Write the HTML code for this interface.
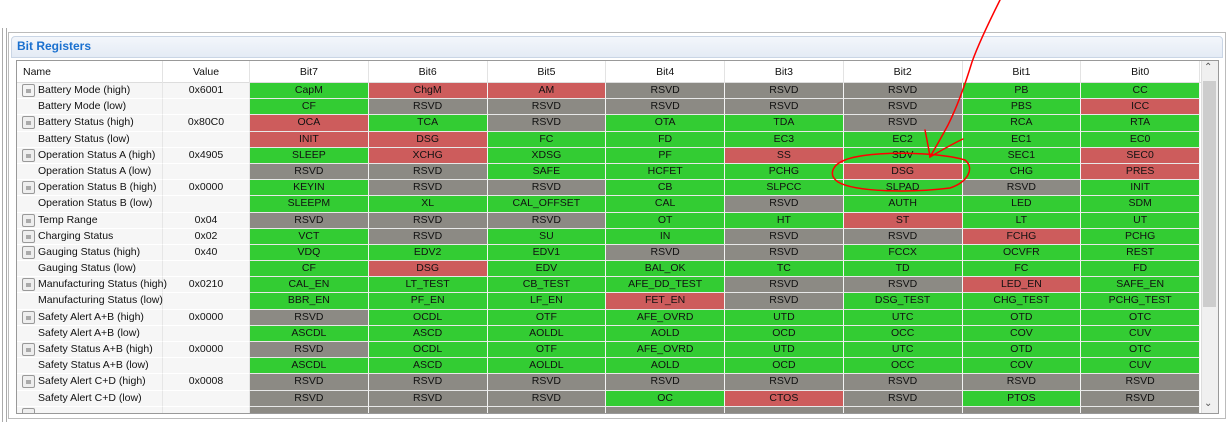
<!DOCTYPE html>
<html><head><meta charset="utf-8"><style>
*{box-sizing:border-box;margin:0;padding:0}
body{width:1230px;height:422px;background:#fff;font-family:"Liberation Sans",Arial,sans-serif;font-size:10.5px;color:#111;position:relative;overflow:hidden}
.abs{position:absolute}
.row{display:flex;height:16.2px}
.c{height:16.2px;line-height:15px;text-align:center;border-right:1px solid #f4f4f4;border-bottom:1px solid #e8e8e8;white-space:nowrap;overflow:hidden}
.n{width:146px;text-align:left;padding-left:21px;background:#f6f6f6;position:relative;border-bottom:1px solid #fff;border-right:1px solid #e6e6e6;overflow:visible}
.v{width:87px;background:#f6f6f6;border-bottom:1px solid #fff;border-right:1px solid #e6e6e6}
.b{width:118.75px}
.g{background:#33cc33}.r{background:#cd5c5c}.x{background:#8c8a84}
.ic{position:absolute;left:5px;top:1px;width:13px;height:13px;border:1px solid #999;border-radius:2px;background:#eee}
.ic:after{content:"";position:absolute;left:3px;top:4px;width:5px;height:4px;background:#aaa}
.hd{display:flex;height:22px;background:#fff;border-bottom:1px solid #ddd}
.hd div{height:22px;line-height:22px;text-align:center;border-right:1px solid #e3e3e3}
</style></head><body>
<div class="abs" style="left:2px;top:28px;width:5px;height:394px;border-left:1px solid #aaa;border-right:1px solid #aaa"></div>
<div class="abs" style="left:8px;top:32px;width:1218px;height:387px;border:1px solid #bbb;background:#fff"></div>
<div class="abs" style="left:11px;top:36px;width:1212px;height:22px;border:1px solid #c9d5e5;border-radius:4px 4px 0 0;background:linear-gradient(#f3f6fb,#e4ebf5)"></div>
<div class="abs" style="left:17px;top:39px;font-weight:bold;font-size:12px;color:#1a70cf">Bit Registers</div>
<div class="abs" style="left:16px;top:60px;width:1203px;height:354px;border:1px solid #999;background:#fff;overflow:hidden">
<div class="hd"><div style="width:146px;text-align:left;padding-left:6px">Name</div><div style="width:87px">Value</div><div style="width:118.75px">Bit7</div><div style="width:118.75px">Bit6</div><div style="width:118.75px">Bit5</div><div style="width:118.75px">Bit4</div><div style="width:118.75px">Bit3</div><div style="width:118.75px">Bit2</div><div style="width:118.75px">Bit1</div><div style="width:118.75px">Bit0</div></div>
<div class="row"><div class="c n"><span class="ic" style="background:#f4f4f4"></span>Battery Mode (high)</div><div class="c v">0x6001</div><div class="c b g">CapM</div><div class="c b r">ChgM</div><div class="c b r">AM</div><div class="c b x">RSVD</div><div class="c b x">RSVD</div><div class="c b x">RSVD</div><div class="c b g">PB</div><div class="c b g">CC</div></div>
<div class="row"><div class="c n">Battery Mode (low)</div><div class="c v"></div><div class="c b g">CF</div><div class="c b x">RSVD</div><div class="c b x">RSVD</div><div class="c b x">RSVD</div><div class="c b x">RSVD</div><div class="c b x">RSVD</div><div class="c b g">PBS</div><div class="c b r">ICC</div></div>
<div class="row"><div class="c n"><span class="ic"></span>Battery Status (high)</div><div class="c v">0x80C0</div><div class="c b r">OCA</div><div class="c b g">TCA</div><div class="c b x">RSVD</div><div class="c b g">OTA</div><div class="c b g">TDA</div><div class="c b x">RSVD</div><div class="c b g">RCA</div><div class="c b g">RTA</div></div>
<div class="row"><div class="c n">Battery Status (low)</div><div class="c v"></div><div class="c b r">INIT</div><div class="c b r">DSG</div><div class="c b g">FC</div><div class="c b g">FD</div><div class="c b g">EC3</div><div class="c b g">EC2</div><div class="c b g">EC1</div><div class="c b g">EC0</div></div>
<div class="row"><div class="c n"><span class="ic"></span>Operation Status A (high)</div><div class="c v">0x4905</div><div class="c b g">SLEEP</div><div class="c b r">XCHG</div><div class="c b g">XDSG</div><div class="c b g">PF</div><div class="c b r">SS</div><div class="c b g">SDV</div><div class="c b g">SEC1</div><div class="c b r">SEC0</div></div>
<div class="row"><div class="c n">Operation Status A (low)</div><div class="c v"></div><div class="c b x">RSVD</div><div class="c b x">RSVD</div><div class="c b g">SAFE</div><div class="c b g">HCFET</div><div class="c b g">PCHG</div><div class="c b r">DSG</div><div class="c b g">CHG</div><div class="c b r">PRES</div></div>
<div class="row"><div class="c n"><span class="ic"></span>Operation Status B (high)</div><div class="c v">0x0000</div><div class="c b g">KEYIN</div><div class="c b x">RSVD</div><div class="c b x">RSVD</div><div class="c b g">CB</div><div class="c b g">SLPCC</div><div class="c b g">SLPAD</div><div class="c b x">RSVD</div><div class="c b g">INIT</div></div>
<div class="row"><div class="c n">Operation Status B (low)</div><div class="c v"></div><div class="c b g">SLEEPM</div><div class="c b g">XL</div><div class="c b g">CAL_OFFSET</div><div class="c b g">CAL</div><div class="c b x">RSVD</div><div class="c b g">AUTH</div><div class="c b g">LED</div><div class="c b g">SDM</div></div>
<div class="row"><div class="c n"><span class="ic"></span>Temp Range</div><div class="c v">0x04</div><div class="c b x">RSVD</div><div class="c b x">RSVD</div><div class="c b x">RSVD</div><div class="c b g">OT</div><div class="c b g">HT</div><div class="c b r">ST</div><div class="c b g">LT</div><div class="c b g">UT</div></div>
<div class="row"><div class="c n"><span class="ic"></span>Charging Status</div><div class="c v">0x02</div><div class="c b g">VCT</div><div class="c b x">RSVD</div><div class="c b g">SU</div><div class="c b g">IN</div><div class="c b x">RSVD</div><div class="c b x">RSVD</div><div class="c b r">FCHG</div><div class="c b g">PCHG</div></div>
<div class="row"><div class="c n"><span class="ic"></span>Gauging Status (high)</div><div class="c v">0x40</div><div class="c b g">VDQ</div><div class="c b g">EDV2</div><div class="c b g">EDV1</div><div class="c b x">RSVD</div><div class="c b x">RSVD</div><div class="c b g">FCCX</div><div class="c b g">OCVFR</div><div class="c b g">REST</div></div>
<div class="row"><div class="c n">Gauging Status (low)</div><div class="c v"></div><div class="c b g">CF</div><div class="c b r">DSG</div><div class="c b g">EDV</div><div class="c b g">BAL_OK</div><div class="c b g">TC</div><div class="c b g">TD</div><div class="c b g">FC</div><div class="c b g">FD</div></div>
<div class="row"><div class="c n"><span class="ic"></span>Manufacturing Status (high)</div><div class="c v">0x0210</div><div class="c b g">CAL_EN</div><div class="c b g">LT_TEST</div><div class="c b g">CB_TEST</div><div class="c b g">AFE_DD_TEST</div><div class="c b x">RSVD</div><div class="c b x">RSVD</div><div class="c b r">LED_EN</div><div class="c b g">SAFE_EN</div></div>
<div class="row"><div class="c n">Manufacturing Status (low)</div><div class="c v"></div><div class="c b g">BBR_EN</div><div class="c b g">PF_EN</div><div class="c b g">LF_EN</div><div class="c b r">FET_EN</div><div class="c b x">RSVD</div><div class="c b g">DSG_TEST</div><div class="c b g">CHG_TEST</div><div class="c b g">PCHG_TEST</div></div>
<div class="row"><div class="c n"><span class="ic"></span>Safety Alert A+B (high)</div><div class="c v">0x0000</div><div class="c b x">RSVD</div><div class="c b g">OCDL</div><div class="c b g">OTF</div><div class="c b g">AFE_OVRD</div><div class="c b g">UTD</div><div class="c b g">UTC</div><div class="c b g">OTD</div><div class="c b g">OTC</div></div>
<div class="row"><div class="c n">Safety Alert A+B (low)</div><div class="c v"></div><div class="c b g">ASCDL</div><div class="c b g">ASCD</div><div class="c b g">AOLDL</div><div class="c b g">AOLD</div><div class="c b g">OCD</div><div class="c b g">OCC</div><div class="c b g">COV</div><div class="c b g">CUV</div></div>
<div class="row"><div class="c n"><span class="ic"></span>Safety Status A+B (high)</div><div class="c v">0x0000</div><div class="c b x">RSVD</div><div class="c b g">OCDL</div><div class="c b g">OTF</div><div class="c b g">AFE_OVRD</div><div class="c b g">UTD</div><div class="c b g">UTC</div><div class="c b g">OTD</div><div class="c b g">OTC</div></div>
<div class="row"><div class="c n">Safety Status A+B (low)</div><div class="c v"></div><div class="c b g">ASCDL</div><div class="c b g">ASCD</div><div class="c b g">AOLDL</div><div class="c b g">AOLD</div><div class="c b g">OCD</div><div class="c b g">OCC</div><div class="c b g">COV</div><div class="c b g">CUV</div></div>
<div class="row"><div class="c n"><span class="ic"></span>Safety Alert C+D (high)</div><div class="c v">0x0008</div><div class="c b x">RSVD</div><div class="c b x">RSVD</div><div class="c b x">RSVD</div><div class="c b x">RSVD</div><div class="c b x">RSVD</div><div class="c b x">RSVD</div><div class="c b x">RSVD</div><div class="c b x">RSVD</div></div>
<div class="row"><div class="c n">Safety Alert C+D (low)</div><div class="c v"></div><div class="c b x">RSVD</div><div class="c b x">RSVD</div><div class="c b x">RSVD</div><div class="c b g">OC</div><div class="c b r">CTOS</div><div class="c b x">RSVD</div><div class="c b g">PTOS</div><div class="c b x">RSVD</div></div>
<div class="row"><div class="c n"><span class="ic"></span></div><div class="c v"></div><div class="c b x"></div><div class="c b x"></div><div class="c b x"></div><div class="c b x"></div><div class="c b x"></div><div class="c b x"></div><div class="c b x"></div><div class="c b x"></div></div>
</div>
<div class="abs" style="left:1201px;top:61px;width:17px;height:352px;background:#f0f0f0;border-left:1px solid #ddd"></div>
<div class="abs" style="left:1203px;top:81px;width:13px;height:226px;background:#cdcdcd"></div>
<div class="abs" style="left:1204px;top:62px;font-size:10px;color:#555">&#8963;</div>
<div class="abs" style="left:1204px;top:398px;font-size:10px;color:#555">&#8964;</div>
<svg class="abs" style="left:0;top:0" width="1230" height="422">
<g fill="none" stroke="#f00" stroke-width="1.5" stroke-linecap="round">
<path d="M1000,0 C990,20 978,45 972,62 C965,85 958,105 948,125 C940,140 934,150 930,157"/>
<path d="M925,130 C927,140 929,150 930,157 C942,150 952,144 963,139"/>
<path d="M845,160 C870,150 940,152 965,160 C975,168 968,182 950,188 C910,193 855,192 838,182 C828,175 832,165 845,160 Z"/>
</g></svg>
</body></html>
